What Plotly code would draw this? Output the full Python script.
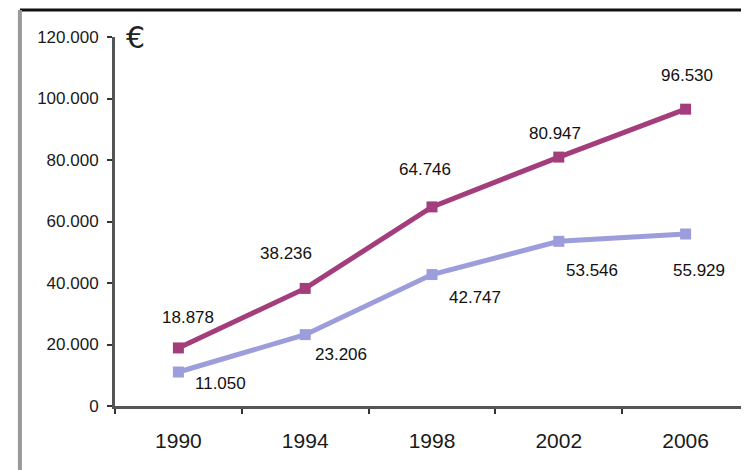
import plotly.graph_objects as go

years = ["1990", "1994", "1998", "2002", "2006"]
series_top = [18878, 38236, 64746, 80947, 96530]
series_bottom = [11050, 23206, 42747, 53546, 55929]
top_labels = ["18.878", "38.236", "64.746", "80.947", "96.530"]
bottom_labels = ["11.050", "23.206", "42.747", "53.546", "55.929"]
y_ticks = [0, 20000, 40000, 60000, 80000, 100000, 120000]
y_tick_text = ["0", "20.000", "40.000", "60.000", "80.000", "100.000", "120.000"]

# label offsets in pixels (style only)
top_shift = [(10, 30), (-19, 35), (-7, 37), (-4, 24), (1, 34)]
bottom_shift = [(42, -11), (36, -20), (43, -23), (33, -29), (13, -36)]

RED = "#a33d7c"
BLUE = "#9d9ddc"
FONT = "Liberation Sans, Arial, sans-serif"

fig = go.Figure()
fig.add_trace(go.Scatter(x=years, y=series_bottom, mode="lines+markers",
                         line=dict(color=BLUE, width=5),
                         marker=dict(symbol="square", size=11, color=BLUE)))
fig.add_trace(go.Scatter(x=years, y=series_top, mode="lines+markers",
                         line=dict(color=RED, width=5),
                         marker=dict(symbol="square", size=11, color=RED)))

annotations = []
for i, (v, t, (dx, dy)) in enumerate(zip(series_top, top_labels, top_shift)):
    annotations.append(dict(x=i, y=v, xref="x", yref="y", text=t, showarrow=False,
                            xshift=dx, yshift=dy, font=dict(family=FONT, size=17, color="#111")))
for i, (v, t, (dx, dy)) in enumerate(zip(series_bottom, bottom_labels, bottom_shift)):
    annotations.append(dict(x=i, y=v, xref="x", yref="y", text=t, showarrow=False,
                            xshift=dx, yshift=dy, font=dict(family=FONT, size=17, color="#111")))
annotations.append(dict(x=0.014, y=1.0, xref="paper", yref="paper", text="€", showarrow=False,
                        xanchor="left", yanchor="middle",
                        font=dict(family="DejaVu Sans, sans-serif", size=30, color="#222")))
fig.update_layout(annotations=annotations)

fig.update_xaxes(type="category", range=[-0.5, 4.5], tickson="boundaries",
                 ticks="outside", ticklen=5, tickcolor="#333", tickwidth=2,
                 showline=True, linecolor="#555", linewidth=3, automargin=False,
                 showgrid=False, zeroline=False, ticklabelstandoff=14,
                 tickfont=dict(family=FONT, size=21, color="#1a1a1a"))
fig.update_yaxes(range=[0, 120000], tickvals=y_ticks, ticktext=y_tick_text,
                 ticks="outside", ticklen=5, tickcolor="#333", tickwidth=2,
                 showline=True, linecolor="#555", linewidth=3, automargin=False,
                 showgrid=False, zeroline=False, ticklabelstandoff=5,
                 tickfont=dict(family=FONT, size=17, color="#1a1a1a"))

# page body adds an 8px margin, so the figure is sized/offset to compensate
fig.update_layout(
    width=741, height=462,
    margin=dict(l=107, r=0, t=29, b=64),
    paper_bgcolor="white", plot_bgcolor="white",
    showlegend=False,
    shapes=[
        dict(type="line", xref="paper", yref="paper", x0=-0.15, x1=1.0, y0=1.073, y1=1.073,
             line=dict(color="#111", width=3)),
        dict(type="line", xref="paper", yref="paper", x0=-0.15, x1=-0.15, y0=1.073, y1=-0.2,
             line=dict(color="#999", width=4)),
    ],
)

fig.write_html("out.html")
